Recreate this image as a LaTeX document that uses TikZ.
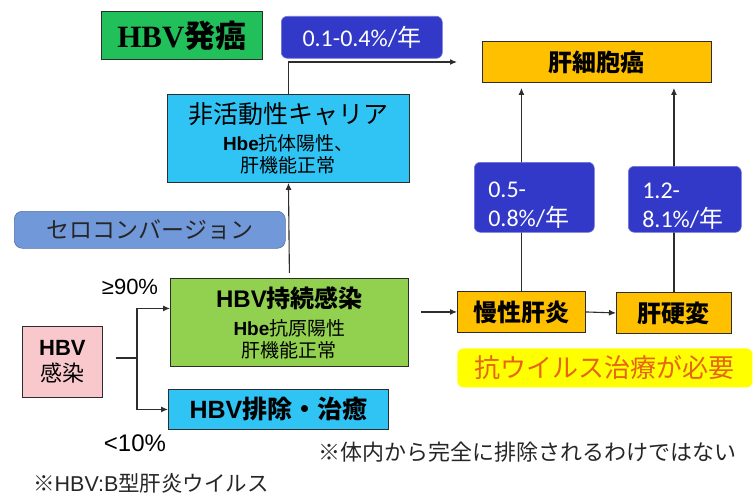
\documentclass[tikz,border=0pt]{standalone}
\usepackage{fontspec}
\setmainfont{Noto Sans CJK JP}
\newfontfamily\ar{Liberation Sans}
\newfontfamily\ser{Liberation Serif}
\newfontfamily\carl{Carlito}
\usetikzlibrary{arrows.meta}
\definecolor{hgreen}{RGB}{34,192,90}
\definecolor{rateblue}{RGB}{50,56,200}
\definecolor{cyanbox}{RGB}{48,196,245}
\definecolor{lgreen}{RGB}{146,208,80}
\definecolor{pinkbox}{RGB}{249,200,204}
\definecolor{orangebox}{RGB}{255,192,0}
\definecolor{seroblue}{RGB}{113,153,217}
\definecolor{yellowbox}{RGB}{255,255,0}
\definecolor{needtext}{RGB}{230,100,20}
\definecolor{linec}{RGB}{45,45,45}
\newcommand\fs[2]{\fontsize{#1pt}{#2pt}\selectfont}
\tikzset{
  box/.style={draw=linec, line width=0.9pt, inner sep=0pt, align=center, anchor=north west},
  ratebox/.style={fill=rateblue, draw=rateblue!70!white, line width=0.6pt, rounded corners=6pt, anchor=north west, inner ysep=0pt, inner xsep=14pt, align=left, text=white},
  conn/.style={draw=linec, line width=1.1pt},
  arr/.style={conn, -{Latex[length=7pt,width=6pt]}},
  lbl/.style={inner sep=0pt}
}
\begin{document}
\begin{tikzpicture}[x=1pt,y=-1pt]
\useasboundingbox (0,0) rectangle (756,495);
% main boxes
\node[box, fill=hgreen, minimum width=161pt, minimum height=48pt, font=\fs{31}{34}] (title) at (101,11)
  {\ser\bfseries HBV{\rmfamily 発癌}};
\node[box, fill=cyanbox, minimum width=242pt, minimum height=88pt, font=\fs{19}{22}] (nac) at (167,94)
  {{\fs{25}{27}非活動性キャリア}\\[5pt]{\ar\bfseries Hbe}抗体陽性、\\肝機能正常};
\node[box, fill=orangebox, minimum width=229pt, minimum height=41pt, font=\fs{24}{28}] (hcc) at (482,41)
  {\bfseries 肝細胞癌};
\node[box, draw=seroblue!75!black, line width=0.6pt, fill=seroblue, rounded corners=8pt, minimum width=271pt, minimum height=37pt, font=\fs{23}{26}, text=black!85] (sero) at (14,211)
  {セロコンバージョン};
\node[box, fill=lgreen, minimum width=238pt, minimum height=88pt, font=\fs{19}{22}] (hbvp) at (170,278)
  {{\fs{24}{26}\bfseries{\ar HBV}持続感染}\\[6pt]{\ar\bfseries Hbe}抗原陽性\\肝機能正常};
\node[box, fill=pinkbox, minimum width=80pt, minimum height=71pt, font=\fs{22}{26}] (inf) at (22,326)
  {{\ar\bfseries HBV}\\感染};
\node[box, fill=cyanbox, minimum width=220pt, minimum height=40pt, font=\fs{25}{28}] (cure) at (168,389)
  {\bfseries{\ar HBV}排除・治癒};
\node[box, fill=orangebox, minimum width=128pt, minimum height=41pt, font=\fs{24}{28}] (mh) at (457,291)
  {\bfseries 慢性肝炎};
\node[box, fill=orangebox, minimum width=115pt, minimum height=41pt, font=\fs{24}{28}] (lc) at (616,292)
  {\bfseries 肝硬変};
\node[box, draw=none, fill=yellowbox, rounded corners=6pt, minimum width=295pt, minimum height=39pt, font=\fs{26}{29}, text=needtext] (need) at (457,348)
  {抗ウイルス治療が必要};
% labels
\node[lbl, font=\fs{22}{26}\ar] (p90) at (130,287) {≥90\%};
\node[lbl, font=\fs{24}{28}\ar] (p10) at (135,443) {<10\%};
\node[lbl, anchor=west, font=\fs{22}{25}, text=black!85] (note1) at (318,452) {※体内から完全に排除されるわけではない};
\node[lbl, anchor=west, font=\fs{21.5}{24}, text=black!85] (note2) at (33,483) {※{\ar HBV:B}型肝炎ウイルス};
% connectors
\coordinate (e1) at (457,62);
\draw[arr] (nac.north) |- (e1);
\draw[arr, shorten <=5pt] (hbvp.north) -- (nac.south);
\coordinate (br) at (137,358);
\draw[conn] ([xshift=13pt]inf.east |- br) -- (br);
\draw[arr] (br) |- ([yshift=14pt]hbvp.west);
\draw[arr] (br) |- (cure.west);
\draw[arr] ([xshift=12pt]hbvp.east |- mh.west) -- (mh.west);
\draw[arr] (mh.east) -- (lc.west);
\draw[arr, shorten >=5pt] (mh.north) -- (hcc.south -| mh.north);
\draw[arr, shorten >=5pt] (lc.north) -- (hcc.south -| lc.north);
% rate boxes (drawn over the lines)
\node[ratebox, minimum width=161pt, minimum height=42pt, align=center, font=\fs{24}{28}\carl] (r1) at (281,16)
  {0.1-0.4\%/{\rmfamily 年}};
\node[ratebox, text width=92pt, minimum height=70pt, font=\fs{24}{29}\carl] (r2) at (474,162)
  {\rule{0pt}{31pt}0.5-\\0.8\%/{\rmfamily 年}};
\node[ratebox, text width=85pt, minimum height=66pt, font=\fs{24}{29}\carl] (r3) at (628,166)
  {\rule{0pt}{29pt}1.2-\\8.1\%/{\rmfamily 年}};
\end{tikzpicture}
\end{document}
